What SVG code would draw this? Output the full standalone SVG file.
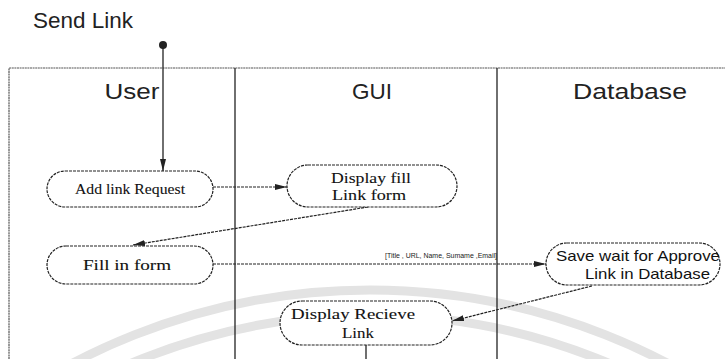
<svg xmlns="http://www.w3.org/2000/svg" width="725" height="359" viewBox="0 0 725 359">
<style>
.bg{fill:#ffffff}
.wm{fill:none;stroke:#e3e3e3;stroke-width:9}
.frame{fill:none;stroke:#555;stroke-width:1.2;stroke-dasharray:2 0.6}
.div{stroke:#222;stroke-width:1.3}
.hdr{font-family:"Liberation Sans",Arial,sans-serif;font-size:22px;fill:#222;text-anchor:middle}
.node{fill:#fff;stroke:#222;stroke-width:1.2;stroke-dasharray:3 1}
.ser{font-family:"Liberation Serif","Times New Roman",serif;font-size:15.5px;fill:#111;stroke:#111;stroke-width:0.1;text-anchor:middle}
.san{font-family:"Liberation Sans",Arial,sans-serif;font-size:15px;fill:#111;text-anchor:start}
.edge{fill:none;stroke:#222;stroke-width:1.2;stroke-dasharray:3 1}
.solid{fill:none;stroke:#222;stroke-width:1.3}
.lbl{font-family:"Liberation Sans",Arial,sans-serif;font-size:7px;fill:#222}
</style>
<defs>
<marker id="ah" viewBox="0 0 12 8" refX="12" refY="4" markerWidth="12" markerHeight="8" markerUnits="userSpaceOnUse" orient="auto">
<path d="M0,1 L12,4 L0,7 Z" fill="#222"/>
</marker>
</defs>
<rect class="bg" x="0" y="0" width="725" height="359"/>
<g id="watermark">
<circle class="wm" cx="370" cy="930" r="640"/>
<circle class="wm" cx="370" cy="930" r="615"/>
</g>
<text class="hdr" x="83" y="28" font-size="21" textLength="100" lengthAdjust="spacingAndGlyphs">Send Link</text>
<g id="lanes">
<path class="frame" d="M9,359 L9,68 L725,68"/>
<line class="div" x1="235" y1="68" x2="235" y2="359"/>
<line class="div" x1="497" y1="68" x2="497" y2="359"/>
<text class="hdr" x="132" y="99" textLength="55" lengthAdjust="spacingAndGlyphs">User</text>
<text class="hdr" x="372" y="99" textLength="40" lengthAdjust="spacingAndGlyphs">GUI</text>
<text class="hdr" x="630" y="99" textLength="114" lengthAdjust="spacingAndGlyphs">Database</text>
</g>
<g id="connectors">
<line class="solid" x1="163" y1="45" x2="163" y2="171" marker-end="url(#ah)"/>
<line class="edge" x1="213" y1="187" x2="287" y2="187" marker-end="url(#ah)"/>
<line class="edge" x1="368" y1="207" x2="133" y2="245" marker-end="url(#ah)"/>
<line class="edge" x1="213" y1="264" x2="546" y2="264" marker-end="url(#ah)"/>
<line class="edge" x1="592" y1="286" x2="452" y2="321" marker-end="url(#ah)"/>
<line class="solid" x1="366" y1="345" x2="366" y2="359"/>
<text class="lbl" x="385" y="258" textLength="112" lengthAdjust="spacingAndGlyphs">[Title , URL, Name, Sumame ,Email]</text>
</g>
<g id="start">
<circle cx="163" cy="45" r="4" fill="#222"/>
</g>
<g id="add-link-request">
<rect class="node" x="47" y="171" width="166" height="36" rx="18"/>
<text class="ser" x="130" y="194" textLength="110" lengthAdjust="spacingAndGlyphs">Add link Request</text>
</g>
<g id="display-fill-link-form">
<rect class="node" x="287" y="165" width="170" height="42" rx="21"/>
<text class="ser" x="371" y="183" textLength="80" lengthAdjust="spacingAndGlyphs">Display fill</text>
<text class="ser" x="369" y="200" textLength="74" lengthAdjust="spacingAndGlyphs">Link  form</text>
</g>
<g id="fill-in-form">
<rect class="node" x="47" y="246" width="166" height="38" rx="19"/>
<text class="ser" x="127" y="270" textLength="88" lengthAdjust="spacingAndGlyphs">Fill in form</text>
</g>
<g id="save-wait">
<rect class="node" x="546" y="243" width="174" height="42" rx="21"/>
<text class="san" x="556" y="261" textLength="164" lengthAdjust="spacingAndGlyphs">Save wait for Approve</text>
<text class="san" x="585" y="279" textLength="125" lengthAdjust="spacingAndGlyphs">Link in Database</text>
</g>
<g id="display-recieve-link">
<rect class="node" x="280" y="301" width="172" height="44" rx="22"/>
<text class="ser" x="353" y="319" textLength="124" lengthAdjust="spacingAndGlyphs">Display Recieve</text>
<text class="ser" x="358" y="338" textLength="32" lengthAdjust="spacingAndGlyphs">Link</text>
</g>
</svg>
